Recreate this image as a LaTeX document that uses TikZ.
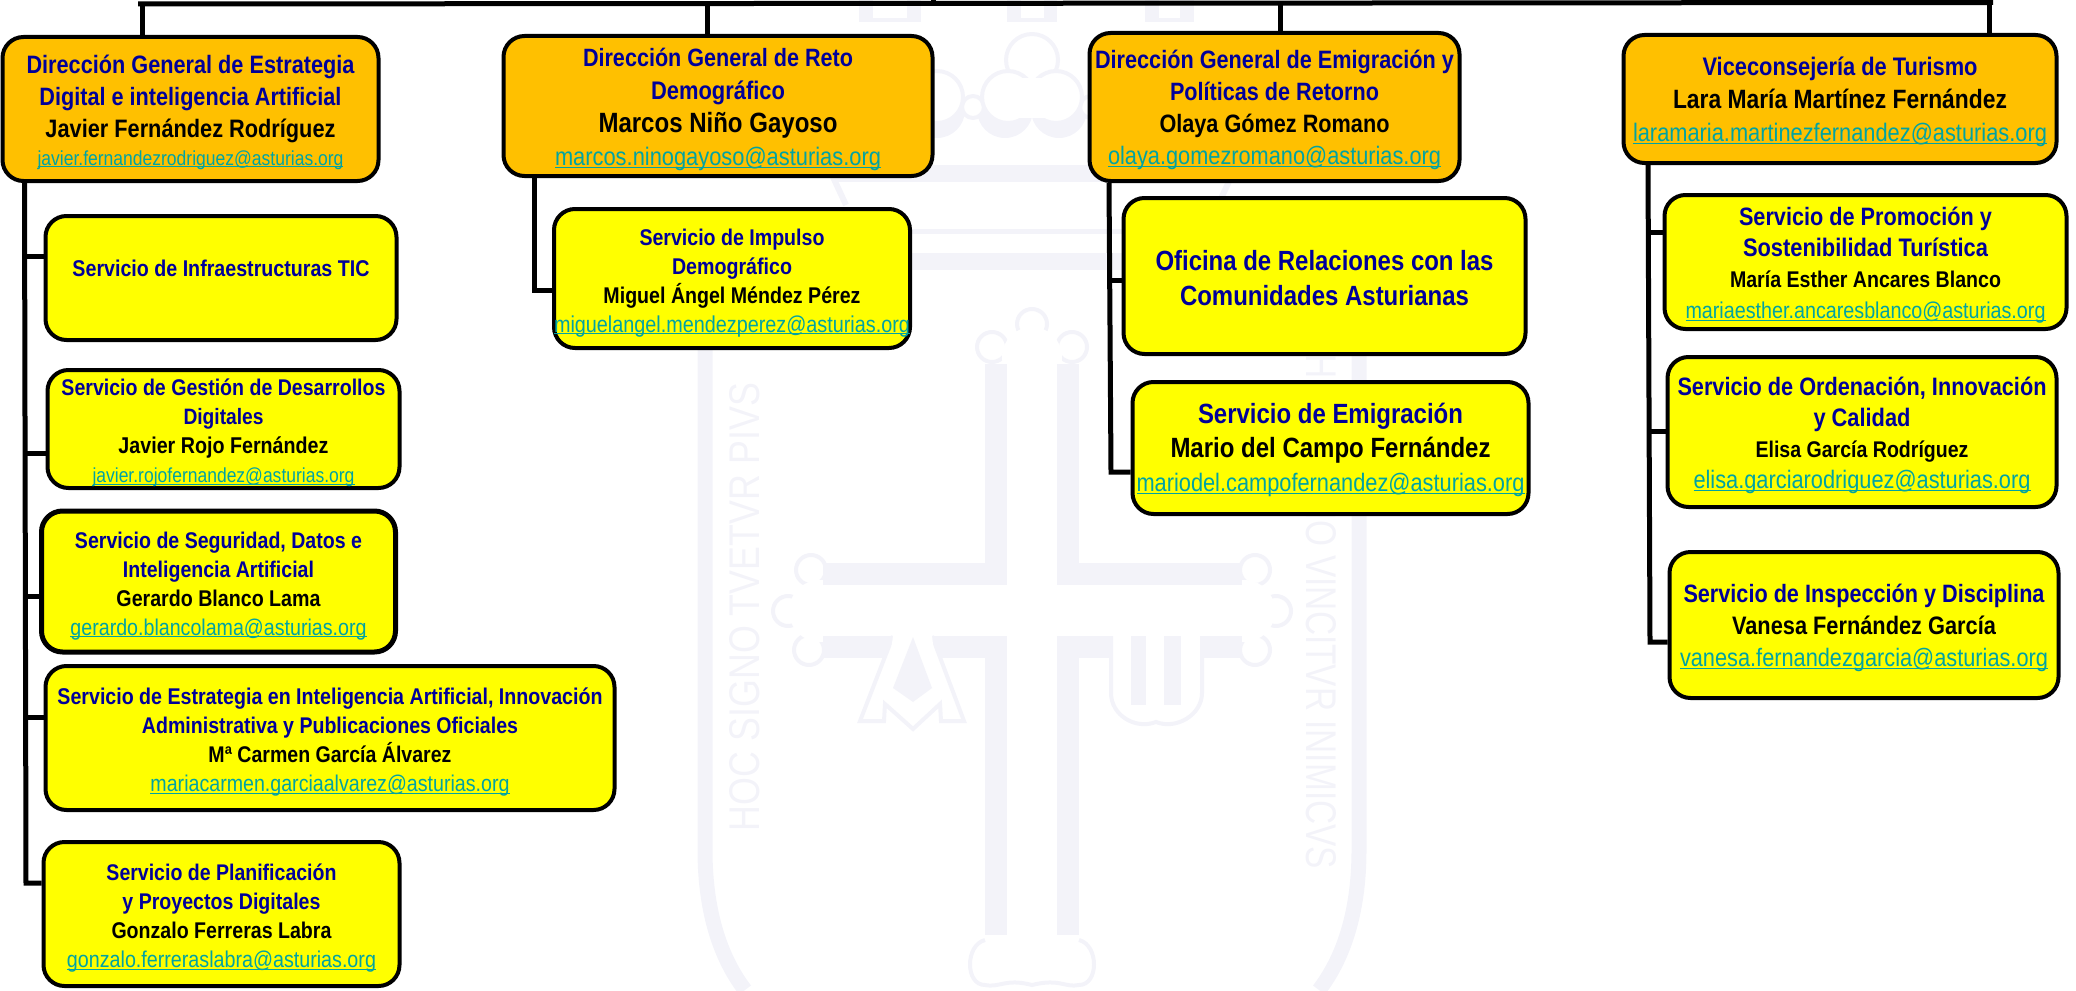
\documentclass[tikz,border=0pt]{standalone}
\usepackage{fontspec}
\setmainfont{Liberation Sans}
\usepackage{graphicx}
\usetikzlibrary{positioning}
\definecolor{dirorange}{HTML}{FFC000}
\definecolor{servyellow}{HTML}{FFFF00}
\definecolor{titleblue}{HTML}{000099}
\definecolor{linkteal}{HTML}{00A3A3}
\definecolor{wmgrey}{HTML}{F3F3F9}
\newlength{\pxunit}
\setlength{\pxunit}{0.5pt}
\newcommand{\tallln}[2]{\scalebox{1}[1.16]{\resizebox{#1\pxunit}{!}{#2}}}
\newcommand{\blueln}[2]{\tallln{#1}{\bfseries\color{titleblue}#2}}
\newcommand{\blackln}[2]{\tallln{#1}{\bfseries\color{black}#2}}
\newcommand{\mailln}[2]{\tallln{#1}{\color{linkteal}\setbox0\hbox{#2}\rlap{\rule[-1pt]{\wd0}{0.5pt}}\box0}}
\newcommand{\topsp}{\rule{0pt}{12.5pt}}
\tikzset{
    link/.style={draw=black,line width=2.5pt},
    wh/.style 2 args={minimum width={(#1-1)*0.5pt},minimum height={(#2-4)*0.5pt}},
    leading/.style={font=\fontsize{10}{#1}\selectfont},
    orgbox/.style={draw=black,line width=2pt,rounded corners=10.5pt,inner sep=0pt,align=center},
    dirbox/.style={orgbox,fill=dirorange},
    servbox/.style={orgbox,fill=servyellow},
    wmband/.style={draw=wmgrey,line width=11pt},
    wmthin/.style={draw=wmgrey,fill=white,line width=2pt},
    wmtext/.style={text=wmgrey,inner sep=0pt}}
\begin{document}
\begin{tikzpicture}[x=0.5pt,y=-0.5pt]
\useasboundingbox (0,0) rectangle (2076,990);

% shield behind the chart
\draw[wmgrey,line width=7.5pt] (705,262) -- (705,850) .. controls (705,915) and (722,960) .. (745,990);
\draw[wmgrey,line width=7.5pt] (1359,262) -- (1359,850) .. controls (1359,915) and (1342,960) .. (1319,990);
\fill[wmgrey] (705,229) rectangle (1359,234);
\fill[wmgrey] (705,253) rectangle (1359,270);
\fill[wmgrey] (832,165) rectangle (1232,182);
\draw[wmgrey,line width=3pt] (832,175) -- (846,205);
\draw[wmgrey,line width=3pt] (1232,175) -- (1218,205);
% crown
\fill[wmgrey] (859,0) rectangle (921,22);
\fill[white] (873,0) rectangle (907,18);
\fill[wmgrey] (1007,0) rectangle (1057,22);
\fill[white] (1021,0) rectangle (1044,18);
\fill[wmgrey] (1145,0) rectangle (1194,22);
\fill[white] (1159,0) rectangle (1180,18);
\draw[wmthin] (1032,60) circle[radius=26];
\fill[wmgrey] (937,110) circle[radius=28];
\fill[wmgrey] (1005,110) circle[radius=28];
\fill[wmgrey] (1059,110) circle[radius=28];
\fill[wmgrey] (1127,110) circle[radius=28];
\draw[wmthin] (973,107) circle[radius=11];
\draw[wmthin] (1091,107) circle[radius=11];
\draw[wmthin] (937,97) circle[radius=26];
\draw[wmthin] (1127,97) circle[radius=26];
\draw[wmthin] (1008,97) circle[radius=26];
\draw[wmthin] (1056,97) circle[radius=26];
\fill[white] (1010,78) rectangle (1054,118);

% cross
\draw[wmthin] (1032,324) circle[radius=15];
\draw[wmthin] (992,347) circle[radius=15];
\draw[wmthin] (1072,347) circle[radius=15];
\fill[white] (1032,357) circle[radius=30];
\draw[wmthin] (811,570) circle[radius=15];
\draw[wmthin] (788,611) circle[radius=15];
\draw[wmthin] (809,650) circle[radius=15];
\fill[white] (820,611) circle[radius=31];
\draw[wmthin] (1255,570) circle[radius=15];
\draw[wmthin] (1276,611) circle[radius=15];
\draw[wmthin] (1255,650) circle[radius=15];
\fill[white] (1244,611) circle[radius=31];
\draw[wmband] (996,364) -- (996,574) -- (823,574);
\draw[wmband] (1068,364) -- (1068,574) -- (1242,574);
\draw[wmband] (823,647) -- (996,647) -- (996,935);
\draw[wmband] (1242,647) -- (1068,647) -- (1068,935);
\draw[wmgrey,line width=2pt] (985,940) .. controls (965,945) and (965,985) .. (985,985) .. controls (1000,988) and (1005,978) .. (1032,985) .. controls (1060,978) and (1065,988) .. (1079,985) .. controls (1099,985) and (1099,945) .. (1079,940);
% alpha and omega
\draw[wmthin] (893,636) -- (860,721) -- (884,721) -- (885,704) -- (913,729) -- (940,704) -- (941,721) -- (964,721) -- (932,636);
\fill[white] (893,636) -- (884,700) -- (913,725) -- (940,700) -- (932,636) -- cycle;
\fill[wmgrey] (913,637) -- (893,688) -- (913,702) -- (932,688) -- cycle;
\draw[wmthin] (1111,636) -- (1111,693) .. controls (1111,715) and (1135,730) .. (1156,722) .. controls (1176,730) and (1202,715) .. (1202,693) -- (1202,636);
\fill[wmgrey] (1131,636) rectangle (1146,705);
\fill[wmgrey] (1164,636) rectangle (1181,705);
\node[wmtext,rotate=90] (wmleft) at (745,607) {\resizebox{448\pxunit}{15pt}{HOC SIGNO TVETVR PIVS}};
\node[wmtext,rotate=-90] (wmright) at (1321.5,612) {\resizebox{514\pxunit}{15pt}{HOC SIGNO VINCITVR INIMICVS}};

% first column
\node[dirbox,wh={377}{148},leading=16] (estrategia) at (190.5,109)
    {\topsp\blueln{328}{Dirección General de Estrategia}\\\blueln{302}{Digital e inteligencia Artificial}\\\blackln{290}{Javier Fernández Rodríguez}\\[-2pt]\mailln{306}{javier.fernandezrodriguez@asturias.org}};
\node[servbox,wh={352}{128},leading=14] (infra) at (221,278)
    {\topsp\blueln{297}{Servicio de Infraestructuras TIC}\\\mbox{}};
\node[servbox,wh={353}{122},leading=14.5] (gestion) at (223.5,429)
    {\topsp\blueln{324}{Servicio de Gestión de Desarrollos}\\\blueln{80}{Digitales}\\\blackln{210}{Javier Rojo Fernández}\\\mailln{262}{javier.rojofernandez@asturias.org}};
\node[servbox,wh={355}{145},leading=14.5,line width=2.5pt] (seguridad) at (218.5,581.5)
    {\topsp\blueln{287}{Servicio de Seguridad, Datos e}\\\blueln{191}{Inteligencia Artificial}\\\blackln{204}{Gerardo Blanco Lama}\\\mailln{296}{gerardo.blancolama@asturias.org}};
\node[servbox,wh={570}{148},leading=14.5] (innovacion) at (330,738)
    {\topsp\blueln{545}{Servicio de Estrategia en Inteligencia Artificial, Innovación}\\\blueln{376}{Administrativa y Publicaciones Oficiales}\\\blackln{243}{Mª Carmen García Álvarez}\\\mailln{359}{mariacarmen.garciaalvarez@asturias.org}};
\node[servbox,wh={357}{148},leading=14.5] (planif) at (221.5,914)
    {\topsp\blueln{230}{Servicio de Planificación}\\\blueln{198}{y Proyectos Digitales}\\\blackln{220}{Gonzalo Ferreras Labra}\\\mailln{309}{gonzalo.ferreraslabra@asturias.org}};

% second column
\node[dirbox,wh={430}{144},leading=16.5] (reto) at (718,106)
    {\topsp\blueln{270}{Dirección General de Reto}\\\blueln{134}{Demográfico}\\\blackln{239}{Marcos Niño Gayoso}\\\mailln{326}{marcos.ninogayoso@asturias.org}};
\node[servbox,wh={356}{143},leading=14.5] (impulso) at (732,278.5)
    {\topsp\blueln{185}{Servicio de Impulso}\\\blueln{120}{Demográfico}\\\blackln{257}{Miguel Ángel Méndez Pérez}\\\mailln{356}{miguelangel.mendezperez@asturias.org}};

% third column
\node[dirbox,wh={371}{152},leading=16] (emigracion) at (1274.5,107)
    {\topsp\blueln{359}{Dirección General de Emigración y}\\\blueln{209}{Políticas de Retorno}\\\blackln{230}{Olaya Gómez Romano}\\\mailln{333}{olaya.gomezromano@asturias.org}};
\node[servbox,wh={403}{160},leading=17.5] (oficina) at (1324.5,276)
    {\topsp\blueln{338}{Oficina de Relaciones con las}\\\blueln{289}{Comunidades Asturianas}};
\node[servbox,wh={397}{136},leading=17] (servemig) at (1330.5,448)
    {\topsp\blueln{265}{Servicio de Emigración}\\\blackln{320}{Mario del Campo Fernández}\\\mailln{388}{mariodel.campofernandez@asturias.org}};

% fourth column
\node[dirbox,wh={434}{132},leading=16.5] (turismo) at (1840,99)
    {\topsp\blueln{275}{Viceconsejería de Turismo}\\\blackln{334}{Lara María Martínez Fernández}\\\mailln{414}{laramaria.martinezfernandez@asturias.org}};
\node[servbox,wh={403}{138},leading=15.5] (promocion) at (1865.5,262)
    {\topsp\blueln{253}{Servicio de Promoción y}\\\blueln{245}{Sostenibilidad Turística}\\\blackln{271}{María Esther Ancares Blanco}\\\mailln{360}{mariaesther.ancaresblanco@asturias.org}};
\node[servbox,wh={390}{154},leading=15.5] (ordenacion) at (1862,432)
    {\topsp\blueln{369}{Servicio de Ordenación, Innovación}\\\blueln{97}{y Calidad}\\\blackln{213}{Elisa García Rodríguez}\\\mailln{337}{elisa.garciarodriguez@asturias.org}};
\node[servbox,wh={390}{150},leading=16] (inspeccion) at (1864,625)
    {\topsp\blueln{361}{Servicio de Inspección y Disciplina}\\\blackln{264}{Vanesa Fernández García}\\\mailln{368}{vanesa.fernandezgarcia@asturias.org}};

% top line and drops
\coordinate (busleft) at (138,4);
\coordinate (busright) at (1993,2.5);
\coordinate (busup) at (933,0);
\coordinate (drop1) at (142,4);
\coordinate (drop2) at (707,3);
\coordinate (drop3) at (1280,3);
\coordinate (drop4) at (1989,3);
\draw[link] (busleft) -- (busright);
\draw[link] (busup) -- ++(0,4);
\draw[link] (drop1) -- (drop1 |- estrategia.north);
\draw[link] (drop2) -- (drop2 |- reto.north);
\draw[link] (drop3) -- (drop3 |- emigracion.north);
\draw[link] (drop4) -- (drop4 |- turismo.north);

% side trunks
\coordinate (trunka) at (24.5,183);
\coordinate (trunkaend) at (26,883);
\draw[link] (trunka) -- (trunkaend) -- (trunkaend -| planif.west);
\coordinate (brinfra) at (25,256);
\coordinate (brgestion) at (25,453);
\coordinate (brseg) at (25.5,596);
\coordinate (brinno) at (25.5,717);
\draw[link] (brinfra) -- (brinfra -| infra.west);
\draw[link] (brgestion) -- (brgestion -| gestion.west);
\draw[link] (brseg) -- (brseg -| seguridad.west);
\draw[link] (brinno) -- (brinno -| innovacion.west);

\coordinate (trunkb) at (534,178);
\coordinate (trunkbend) at (534,290);
\draw[link] (trunkb) -- (trunkbend) -- (trunkbend -| impulso.west);

\coordinate (trunkc) at (1109,183);
\coordinate (trunkcend) at (1111,472);
\coordinate (broficina) at (1110,280);
\draw[link] (trunkc) -- (trunkcend) -- (trunkcend -| servemig.west);
\draw[link] (broficina) -- (broficina -| oficina.west);

\coordinate (trunkd) at (1648,165);
\coordinate (trunkdend) at (1650,642);
\coordinate (brpromo) at (1648.5,232);
\coordinate (brorden) at (1649.5,431);
\draw[link] (trunkd) -- (trunkdend) -- (trunkdend -| inspeccion.west);
\draw[link] (brpromo) -- (brpromo -| promocion.west);
\draw[link] (brorden) -- (brorden -| ordenacion.west);
\end{tikzpicture}
\end{document}
